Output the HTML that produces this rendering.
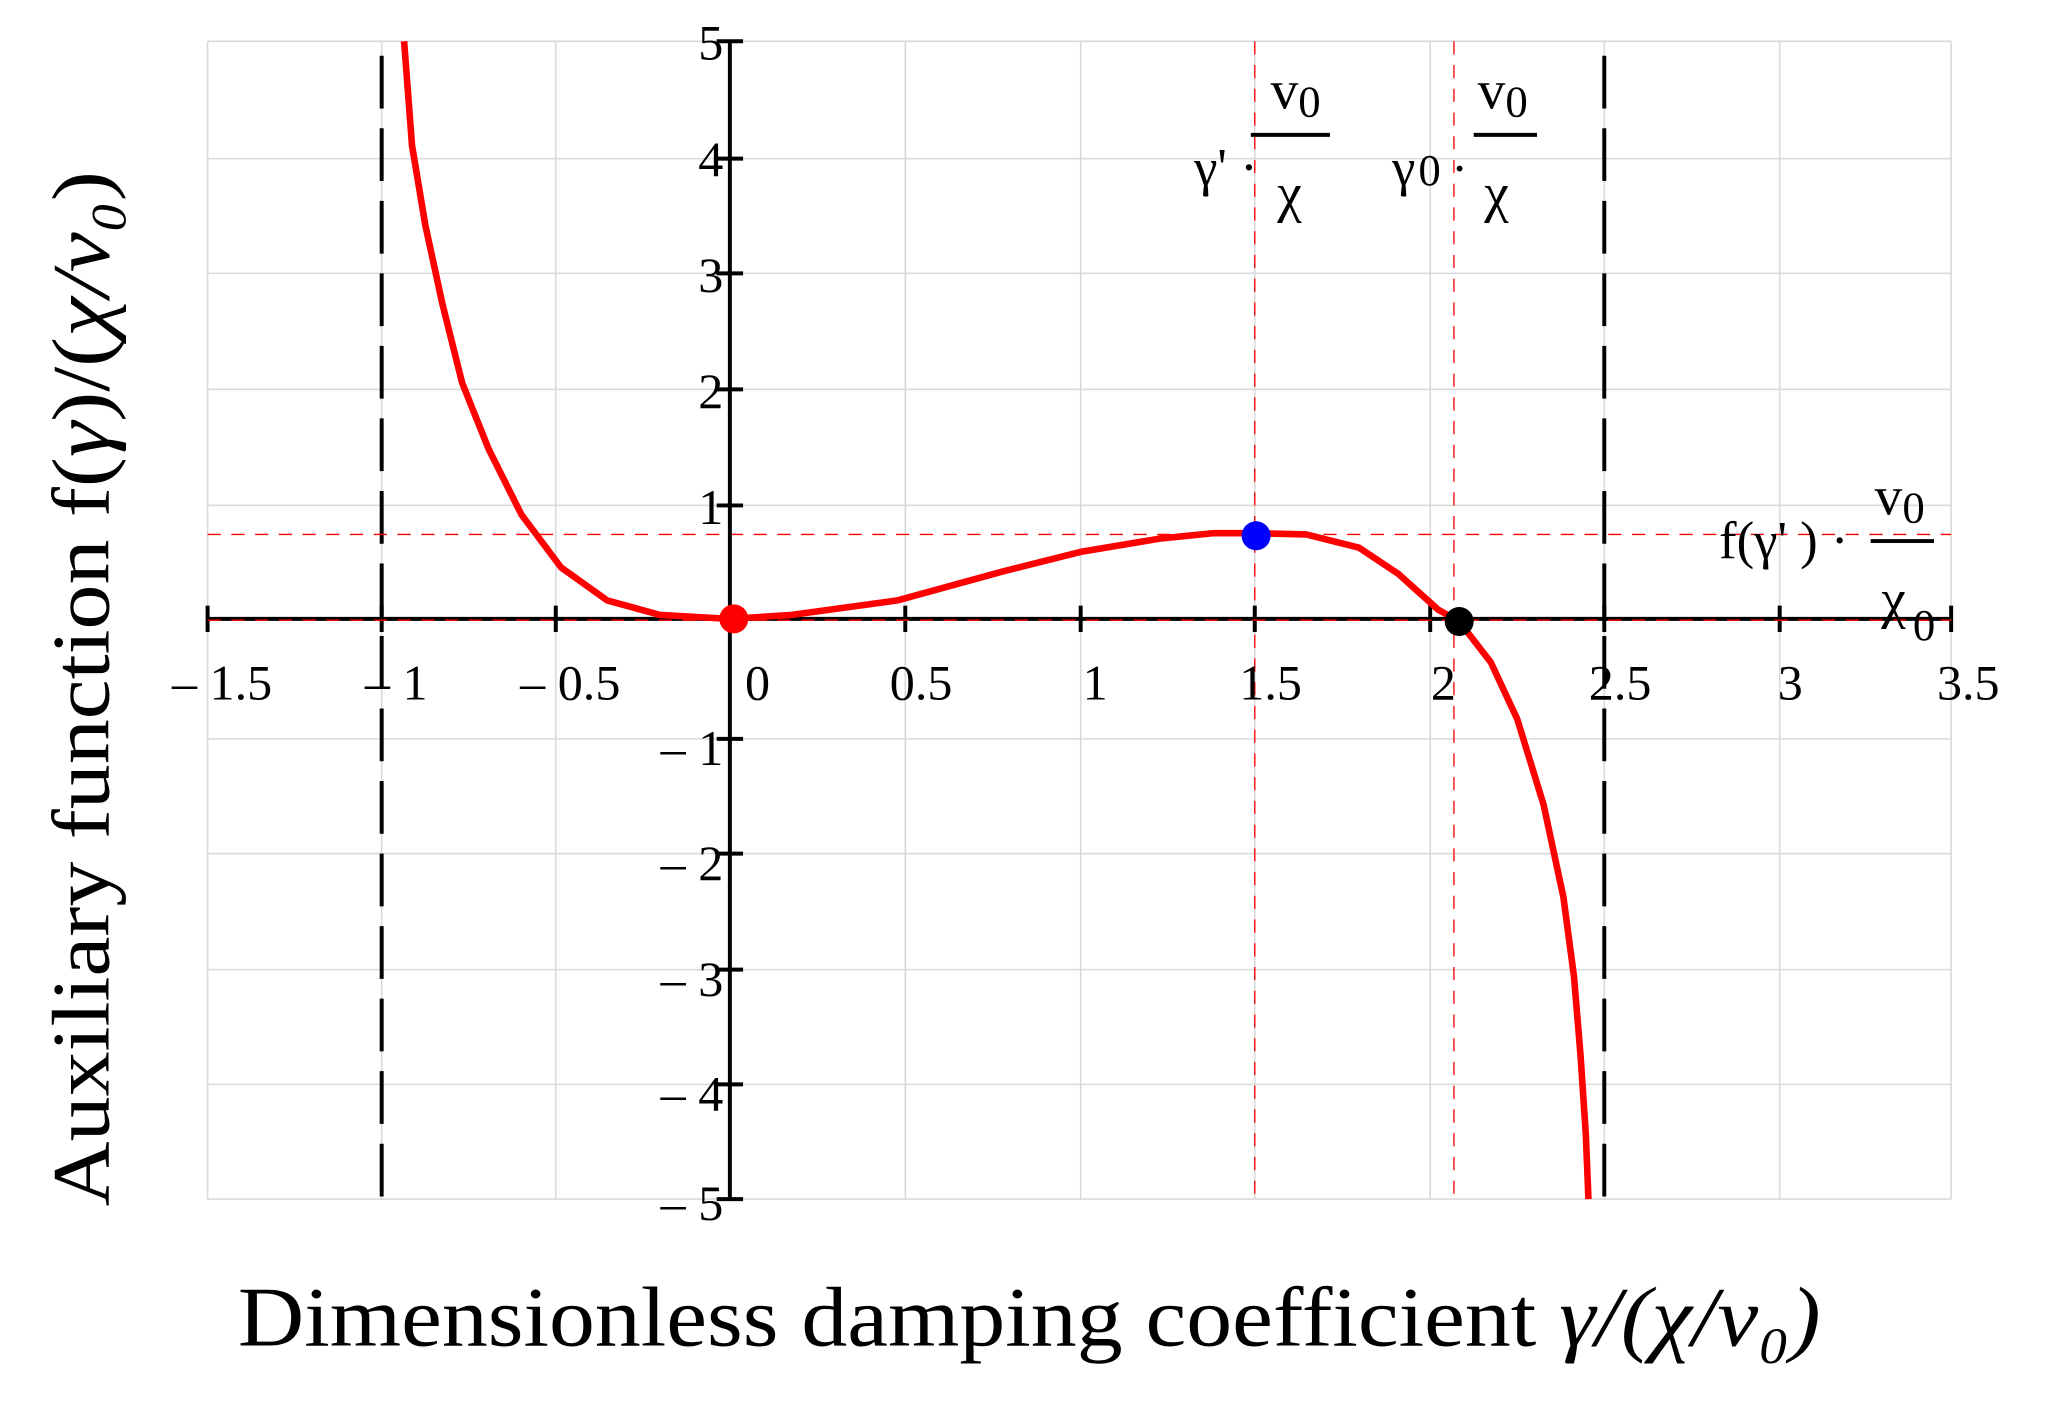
<!DOCTYPE html>
<html><head><style>html,body{margin:0;padding:0;background:#fff}svg{display:block}</style></head>
<body>
<svg width="2068" height="1411" viewBox="-0.4 -0.3 1568 1070" preserveAspectRatio="none" xmlns="http://www.w3.org/2000/svg" font-family="'Liberation Serif', serif">
<g stroke="#d9d9d9" stroke-width="1.2" fill="none">
<path d="M157 31V909M289 31V909M421 31V909M686 31V909M819 31V909M951 31V909M1084 31V909M1216 31V909M1349 31V909M1479 31V909"/>
<path d="M157 31H1479M157 120H1479M157 207H1479M157 295H1479M157 383H1479M157 560H1479M157 647H1479M157 735H1479M157 822H1479M157 909H1479"/>
</g>
<g stroke="#000" stroke-width="3" stroke-dasharray="40,15" fill="none">
<path d="M289 42V915M1216 42V915"/>
</g>
<g stroke="#f00" stroke-width="1" stroke-dasharray="10,8" fill="none">
<path d="M157 405H1479M951 31V909M1102 31V909"/>
</g>
<g stroke="#000" stroke-width="3" fill="none">
<path d="M157 469H1479M553 31V909"/>
<path d="M157 459V479M289 459V479M421 459V479M686 459V479M819 459V479M951 459V479M1084 459V479M1216 459V479M1349 459V479M1479 459V479"/>
<path d="M543 31H563M543 120H563M543 207H563M543 295H563M543 383H563M543 560H563M543 647H563M543 735H563M543 822H563M543 909H563"/>
</g>
<path d="M157 470H1479" stroke="#f00" stroke-width="1" stroke-dasharray="10,8"/>
<path d="M306 31 L312 110 L322 170 L335 230 L350 290 L370 340 L395 390 L425 430 L460 455 L500 466 L553 469 L600 466 L680 455 L760 433 L820 418 L880 408 L920 404 L951 404 L990 405 L1030 415 L1060 435 L1090 462 L1106 471 L1130 502 L1150 545 L1170 610 L1185 680 L1193 740 L1198 800 L1202 860 L1204 909" fill="none" stroke="#f00" stroke-width="5" stroke-linejoin="round"/>
<circle cx="556" cy="469" r="11" fill="#f00"/>
<circle cx="952" cy="406" r="11" fill="#00f"/>
<circle cx="1106" cy="471" r="11" fill="#000"/>
<g font-size="38" fill="#000">
<g text-anchor="middle">
<text x="168" y="530">– 1.5</text><text x="300" y="530">– 1</text><text x="432" y="530">– 0.5</text>
<text x="574" y="530">0</text><text x="698" y="530">0.5</text><text x="830" y="530">1</text><text x="963" y="530">1.5</text>
<text x="1094" y="530">2</text><text x="1228" y="530">2.5</text><text x="1357" y="530">3</text><text x="1492" y="530">3.5</text>
</g>
<g text-anchor="end">
<text x="548" y="45">5</text><text x="548" y="133">4</text><text x="548" y="221">3</text><text x="548" y="309">2</text><text x="548" y="397">1</text>
<text x="548" y="580">– 1</text><text x="548" y="667">– 2</text><text x="548" y="755">– 3</text><text x="548" y="842">– 4</text><text x="548" y="925">– 5</text>
</g>
<text x="905" y="140" font-size="40">γ' ·</text><text x="963" y="82" font-size="42">v</text><text x="984" y="88" font-size="34">0</text>
<text x="968" y="160" font-size="42">χ</text>
<text x="1055" y="140" font-size="40">γ</text><text x="1075" y="140" font-size="34">0</text><text x="1100" y="140">·</text>
<text x="1120" y="82" font-size="42">v</text><text x="1141" y="88" font-size="34">0</text><text x="1125" y="160" font-size="42">χ</text>
<text x="1303" y="423" font-size="40">f(γ' ) ·</text><text x="1421" y="390" font-size="42">v</text><text x="1442" y="396" font-size="34">0</text><text x="1426" y="468" font-size="42">χ</text><text x="1450" y="485" font-size="34">0</text>
</g>
<g stroke="#000" stroke-width="3"><path d="M948 102H1008M1117 102H1165M1418 410H1466"/></g>
<text x="780" y="1020" text-anchor="middle" font-size="64" textLength="1200" lengthAdjust="spacingAndGlyphs">Dimensionless damping coefficient <tspan font-style="italic">γ/(χ/v₀)</tspan></text>
<text transform="translate(82,522) rotate(-90)" text-anchor="middle" font-size="62" textLength="785" lengthAdjust="spacingAndGlyphs">Auxiliary function f(<tspan font-style="italic">γ</tspan>)/(<tspan font-style="italic">χ/v₀</tspan>)</text>
</svg>
</body></html>
